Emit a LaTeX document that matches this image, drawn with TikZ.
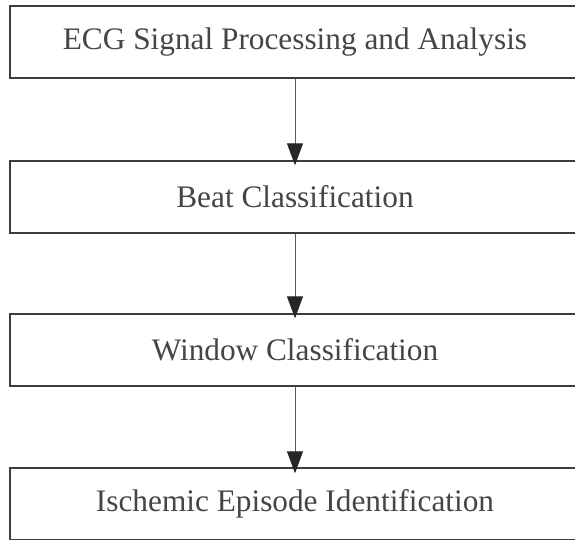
\documentclass[tikz,border=0pt]{standalone}
\usepackage{fontspec}
\setmainfont{Liberation Serif}
\usetikzlibrary{arrows.meta}
\definecolor{boxline}{HTML}{3C3C3C}
\definecolor{txt}{HTML}{454545}
\definecolor{arrline}{HTML}{5A5A5A}
\definecolor{arrhead}{HTML}{262626}
\tikzset{
  stepbox/.style={draw=boxline, line width=1.4pt, rectangle, minimum width=570pt,
    minimum height=72pt, inner sep=0pt, text=txt,
    font=\fontsize{31.3}{36}\selectfont},
  flowarrow/.style={draw=arrline, line width=1pt,
    -{Triangle[length=22pt,width=16pt,color=arrhead]}}
}
\begin{document}
\begin{tikzpicture}[x=1pt,y=-1pt]
\useasboundingbox (0,0) rectangle (575,539);
\clip (0,0) rectangle (575,539);
\fill[white] (0,0) rectangle (575,539);
\node[stepbox] (b1) at (295,42) {ECG Signal Processing and Analysis};
\node[stepbox] (b2) at (295,197) {Beat Classification};
\node[stepbox] (b3) at (295,350) {\raisebox{-3pt}{Window Classification}};
\node[stepbox] (b4) at (295,504) {\raisebox{-4pt}{Ischemic Episode Identification}};
\draw[flowarrow] (b1.south) -- ([yshift=-5pt]b2.north);
\draw[flowarrow] (b2.south) -- ([yshift=-5pt]b3.north);
\draw[flowarrow] (b3.south) -- ([yshift=-6pt]b4.north);
\end{tikzpicture}
\end{document}
